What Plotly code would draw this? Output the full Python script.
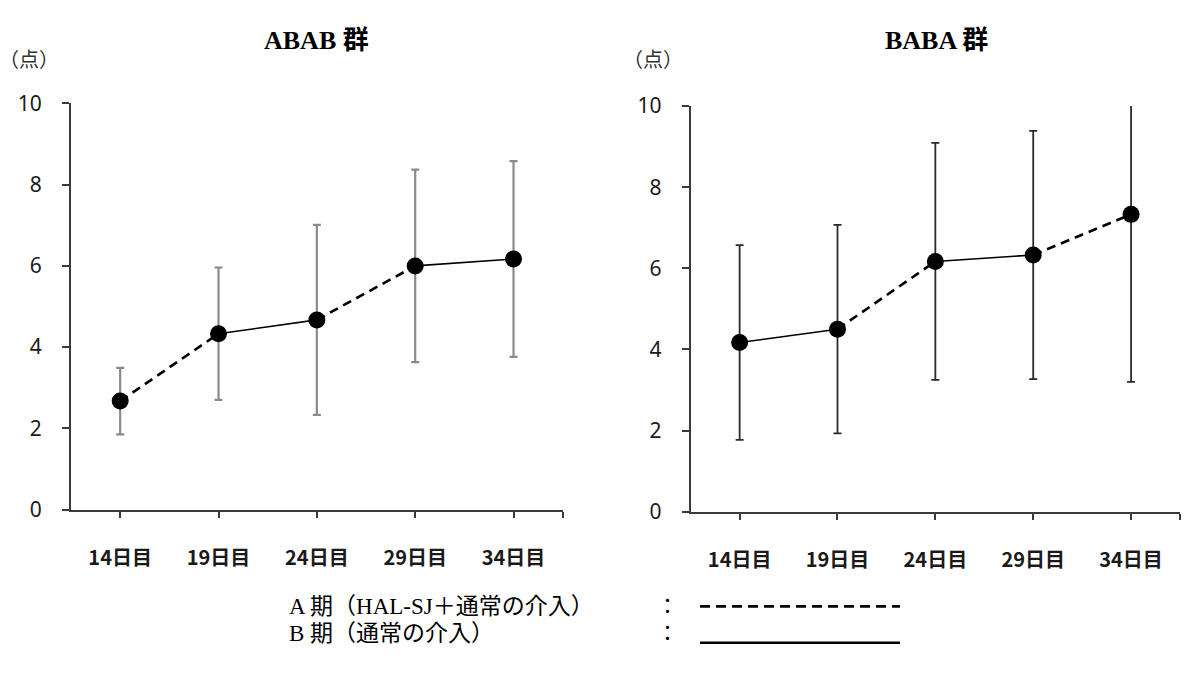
import plotly.graph_objects as go

# Assessment days (x-axis categories)
days = ["14日目", "19日目", "24日目", "29日目", "34日目"]

# ABAB group: mean score and standard deviation
abab_mean = [2.67, 4.33, 4.67, 6.00, 6.17]
abab_sd = [0.82, 1.63, 2.34, 2.37, 2.41]
# Phase applied between consecutive assessments (A = HAL-SJ + usual care, B = usual care)
abab_phase = ["A", "B", "A", "B"]

# BABA group: mean score and standard deviation
baba_mean = [4.17, 4.50, 6.17, 6.33, 7.33]
baba_sd = [2.40, 2.57, 2.92, 3.06, 4.13]
baba_phase = ["B", "A", "B", "A"]

y_ticks = [0, 2, 4, 6, 8, 10]

W, H = 1184, 673
AXIS_COLOR = "#3a3a3a"
TEXT_COLOR = "#1a1a1a"
SERIF = "Liberation Serif, Noto Sans CJK JP, serif"

fig = go.Figure()


def add_group(mean, sd, phases, xa, ya, err_color, err_width):
    xs = list(range(len(mean)))
    # Line segments: dashed for A phase, solid for B phase
    for i, ph in enumerate(phases):
        fig.add_trace(go.Scatter(
            x=[xs[i], xs[i + 1]], y=[mean[i], mean[i + 1]],
            mode="lines", xaxis=xa, yaxis=ya, showlegend=False, hoverinfo="skip",
            line=dict(color="black", width=2.6 if ph == "A" else 1.6,
                      dash="9px,6px" if ph == "A" else "solid"),
        ))
    # Error bars (mean ± SD)
    fig.add_trace(go.Scatter(
        x=xs, y=mean, mode="markers", xaxis=xa, yaxis=ya, showlegend=False,
        marker=dict(size=1, color="rgba(0,0,0,0)"),
        error_y=dict(type="data", array=sd, visible=True, color=err_color,
                     thickness=err_width, width=4),
    ))
    # Mean markers
    fig.add_trace(go.Scatter(
        x=xs, y=mean, mode="markers", xaxis=xa, yaxis=ya, showlegend=False,
        marker=dict(size=17, color="black"),
    ))


add_group(abab_mean, abab_sd, abab_phase, "x", "y", "#8a8a8a", 2.2)
add_group(baba_mean, baba_sd, baba_phase, "x2", "y2", "#2a2a2a", 1.8)

tick_vals = list(range(len(days))) + [len(days) - 0.5]
tick_text = days + [""]

xaxis_common = dict(
    range=[-0.5, len(days) - 0.5], tickvals=tick_vals, ticktext=tick_text,
    showline=True, linecolor=AXIS_COLOR, linewidth=2, ticks="outside",
    ticklen=6, tickwidth=2, tickcolor=AXIS_COLOR, showgrid=False, zeroline=False,
    tickfont=dict(family="Noto Sans CJK JP", size=20, color=TEXT_COLOR, weight=700),
    ticklabelstandoff=23, fixedrange=True,
)
yaxis_common = dict(
    range=[0, 10], tickvals=y_ticks, ticktext=[str(v) for v in y_ticks],
    showline=True, linecolor=AXIS_COLOR, linewidth=2, ticks="outside",
    ticklen=7, tickwidth=2, tickcolor=AXIS_COLOR, showgrid=False, zeroline=False,
    tickfont=dict(family="Noto Sans", size=21, color=TEXT_COLOR),
    ticklabelstandoff=16, fixedrange=True,
)

fig.update_layout(
    width=W, height=H, margin=dict(l=0, r=0, t=0, b=0),
    paper_bgcolor="white", plot_bgcolor="white",
    xaxis=dict(domain=[71 / W, 562.7 / W], anchor="y", **xaxis_common),
    yaxis=dict(domain=[1 - 516 / H, 1 - 92.3 / H], anchor="x", **yaxis_common),
    xaxis2=dict(domain=[690.7 / W, 1180 / W], anchor="y2", **xaxis_common),
    yaxis2=dict(domain=[1 - 518.3 / H, 1 - 95 / H], anchor="x2", **yaxis_common),
)

annotations = [
    dict(text="<b>ABAB 群</b>", x=316 / W, y=1 - 27 / H),
    dict(text="<b>BABA 群</b>", x=936 / W, y=1 - 27 / H),
]
for a in annotations:
    a.update(xref="paper", yref="paper", showarrow=False, xanchor="center",
             yanchor="middle", font=dict(family=SERIF, size=26, color="black"))

for px in (29, 653):
    annotations.append(dict(
        text="（点）", x=px / W, y=1 - 47 / H, xref="paper", yref="paper",
        showarrow=False, xanchor="center", yanchor="middle",
        font=dict(family=SERIF, size=20, color="#333333")))

# Phase key below the panels
legend_rows = [
    ("A 期（HAL-SJ＋通常の介入）", 617, "10px,6px", 2.8),
    ("B 期（通常の介入）", 645, "solid", 2.6),
]
shapes = []
for label, ypx, dash, lw in legend_rows:
    annotations.append(dict(
        text=label, x=287 / W, y=1 - ypx / H, xref="paper", yref="paper",
        showarrow=False, xanchor="left", yanchor="middle",
        font=dict(family=SERIF, size=23, color="black")))
    annotations.append(dict(
        text="：", x=667 / W, y=1 - ypx / H, xref="paper", yref="paper",
        showarrow=False, xanchor="center", yanchor="middle",
        font=dict(family=SERIF, size=21, color="black")))
    line_y = ypx if dash != "solid" else ypx + 10
    shapes.append(dict(
        type="line", xref="paper", yref="paper",
        x0=700 / W, x1=900 / W, y0=1 - line_y / H, y1=1 - line_y / H,
        line=dict(color="black", width=lw, dash=dash)))

fig.update_layout(annotations=annotations, shapes=shapes)

fig.write_html("out.html")
